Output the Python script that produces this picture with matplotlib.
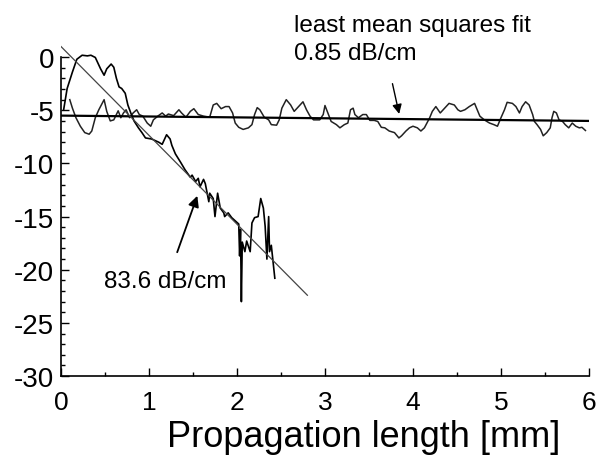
import numpy as np
import matplotlib
matplotlib.use("Agg")
import matplotlib.pyplot as plt
from matplotlib.ticker import MultipleLocator, FixedLocator

plt.rcParams['font.family'] = ['Liberation Sans', 'DejaVu Sans']
plt.rcParams['axes.unicode_minus'] = False

# decaying trace (short sample)
x_decay = [0.03, 0.07, 0.13, 0.18, 0.24, 0.30, 0.34, 0.39, 0.45, 0.49, 0.52, 0.57,
           0.60, 0.63, 0.66, 0.69, 0.73, 0.76, 0.80, 0.83, 0.88, 0.92, 0.96, 1.03,
           1.11, 1.15, 1.20, 1.24, 1.26, 1.30, 1.36, 1.41, 1.47, 1.49, 1.53, 1.56,
           1.58, 1.62, 1.64, 1.68, 1.69, 1.73, 1.75, 1.78, 1.81, 1.85, 1.86, 1.90,
           1.94, 1.98, 2.02, 2.03, 2.04, 2.05, 2.06, 2.09, 2.11, 2.15, 2.17, 2.20,
           2.24, 2.27, 2.30, 2.32, 2.34, 2.36, 2.37, 2.39, 2.43]
y_decay = [-4.96, -2.95, -1.4, -0.2, 0.18, 0.12, 0.18, -0.03, -1.1, -1.7, -1.1, -0.65,
           -0.95, -2.0, -2.8, -2.95, -3.4, -4.5, -5.4, -6.0, -6.65, -7.1, -7.6, -7.7,
           -8.0, -8.2, -7.3, -7.7, -8.3, -9.1, -9.9, -10.6, -11.3, -11.1, -11.7, -11.4,
           -12.2, -11.5, -11.9, -13.6, -12.8, -13.3, -15.0, -12.8, -14.2, -14.65, -15.0, -14.65,
           -15.1, -15.4, -15.7, -18.7, -16.2, -23.0, -17.4, -18.3, -17.3, -18.3, -15.6, -15.1,
           -15.0, -13.3, -14.2, -15.9, -19.0, -15.0, -18.3, -17.7, -20.8]

# flat trace (long sample)
x_flat = [0.10, 0.13, 0.17, 0.22, 0.27, 0.32, 0.35, 0.39, 0.43, 0.49, 0.52, 0.56,
          0.60, 0.65, 0.68, 0.71, 0.74, 0.78, 0.82, 0.86, 0.89, 0.93, 0.98, 1.02,
          1.05, 1.10, 1.15, 1.19, 1.22, 1.28, 1.34, 1.37, 1.42, 1.47, 1.51, 1.56,
          1.62, 1.69, 1.73, 1.77, 1.82, 1.87, 1.91, 1.95, 1.98, 2.02, 2.07, 2.13,
          2.17, 2.20, 2.23, 2.26, 2.31, 2.36, 2.39, 2.45, 2.48, 2.51, 2.56, 2.61,
          2.65, 2.70, 2.75, 2.79, 2.83, 2.87, 2.94, 2.98, 3.00, 3.04, 3.07, 3.13,
          3.17, 3.22, 3.26, 3.29, 3.32, 3.34, 3.38, 3.43, 3.47, 3.51, 3.56, 3.60,
          3.64, 3.68, 3.73, 3.79, 3.84, 3.87, 3.92, 3.96, 4.00, 4.05, 4.09, 4.13,
          4.19, 4.22, 4.26, 4.31, 4.36, 4.41, 4.47, 4.51, 4.54, 4.59, 4.64, 4.70,
          4.73, 4.76, 4.81, 4.87, 4.92, 4.96, 5.00, 5.04, 5.07, 5.13, 5.17, 5.21,
          5.24, 5.28, 5.32, 5.36, 5.38, 5.41, 5.45, 5.48, 5.52, 5.56, 5.58, 5.60,
          5.63, 5.66, 5.70, 5.73, 5.77, 5.81, 5.85, 5.89, 5.92, 5.96]
y_flat = [-4.0, -4.8, -5.7, -6.5, -7.1, -7.25, -6.95, -5.7, -4.95, -4.0, -5.1, -6.0,
          -5.9, -5.05, -5.7, -5.25, -4.95, -5.7, -5.25, -4.95, -5.4, -5.55, -6.2, -6.5,
          -5.9, -5.55, -5.25, -5.55, -5.35, -5.5, -4.95, -5.25, -5.65, -5.1, -4.85, -5.4,
          -5.55, -5.65, -4.5, -4.35, -4.85, -4.65, -4.65, -5.25, -6.2, -6.6, -6.8, -6.65,
          -6.35, -5.4, -4.75, -4.95, -5.65, -5.9, -6.35, -6.4, -5.9, -4.8, -4.0, -4.5,
          -5.1, -4.65, -4.2, -4.95, -5.55, -5.9, -5.9, -5.4, -4.55, -5.4, -6.05, -6.35,
          -6.65, -6.35, -6.2, -4.95, -4.8, -5.4, -5.7, -5.4, -5.4, -5.95, -5.95, -6.05,
          -6.6, -6.65, -6.95, -7.1, -7.6, -7.4, -6.95, -6.65, -6.5, -6.65, -6.95, -6.65,
          -5.7, -5.1, -4.65, -5.25, -4.8, -4.35, -4.5, -4.95, -5.1, -4.95, -4.65, -4.35,
          -4.95, -5.55, -5.9, -6.2, -6.35, -6.5, -5.7, -4.95, -4.25, -4.35, -4.65, -5.25,
          -4.65, -4.2, -4.5, -5.4, -6.05, -6.35, -6.8, -7.4, -7.1, -6.65, -5.7, -5.1,
          -5.25, -5.9, -6.05, -6.35, -6.65, -6.2, -6.5, -6.65, -6.6, -6.9]

# least mean squares fits (end points)
fit_steep_x = [0.0, 2.8]
fit_steep_y = [1.0, -22.4]
fit_flat_x = [0.0, 6.0]
fit_flat_y = [-5.5, -6.0]

fig = plt.figure(figsize=(6.05, 4.56), dpi=100)
ax = fig.add_axes([0.1008, 0.1732, 0.8727, 0.7459])

ax.plot(x_flat, y_flat, color='#222222', lw=1.1)
ax.plot(x_decay, y_decay, color='black', lw=1.2)
ax.plot(fit_flat_x, fit_flat_y, color='black', lw=1.6)
ax.plot(fit_steep_x, fit_steep_y, color='#444444', lw=0.9)

ax.set_xlim(0, 6)
ax.set_ylim(-30, 2)
for s in ['top', 'right']:
    ax.spines[s].set_visible(False)
ax.spines['left'].set_bounds(-30, 0)
ax.spines['left'].set_linewidth(1.2)
ax.spines['bottom'].set_linewidth(1.2)

ax.xaxis.set_major_locator(MultipleLocator(1))
ax.xaxis.set_minor_locator(MultipleLocator(0.5))
ax.yaxis.set_major_locator(FixedLocator(np.arange(-30, 1, 5)))
ax.yaxis.set_minor_locator(FixedLocator(np.arange(-30, 1, 1)))
ax.tick_params(which='major', direction='in', length=6, width=1, labelsize=20)
ax.tick_params(which='minor', direction='in', length=3, width=1)
ax.tick_params(axis='y', pad=5)
ax.tick_params(axis='x', pad=10, labelsize=19)

ax.set_xlabel('Propagation length [mm]', fontsize=26, labelpad=0)
ax.xaxis.set_label_coords(0.574, -0.126)

ax.text(2.65, 2.42, 'least mean squares fit', fontsize=17.5, va='baseline', clip_on=False)
ax.text(2.65, -0.19, '0.85 dB/cm', fontsize=17.5, va='baseline', clip_on=False)
ax.annotate('', xy=(3.85, -5.6), xytext=(3.76, -2.24),
            arrowprops=dict(arrowstyle='-|>', color='black', lw=1, mutation_scale=14))

ax.text(0.49, -21.6, '83.6 dB/cm', fontsize=17.5, va='baseline')
ax.annotate('', xy=(1.56, -12.8), xytext=(1.31, -18.6),
            arrowprops=dict(arrowstyle='-|>', color='black', lw=1.3, mutation_scale=16))

fig.savefig('out.png', dpi=100)
